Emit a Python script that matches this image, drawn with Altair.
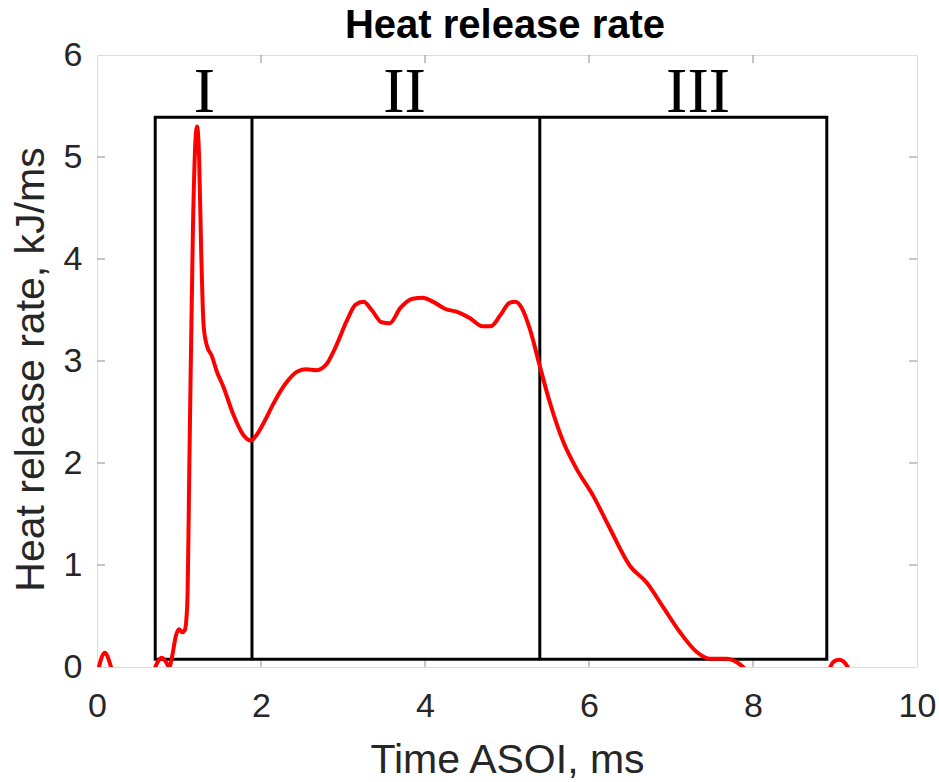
import altair as alt
import pandas as pd

# Heat release rate curve (time ASOI in ms, HRR in kJ/ms); values below 0 are clipped by the axes
time_ms = [0.00, 0.03, 0.06, 0.10, 0.14, 0.17, 0.22, 0.40, 0.60, 0.70, 0.74, 0.79, 0.84, 0.88,
           0.92, 0.96, 1.00, 1.04, 1.07, 1.10, 1.13, 1.17, 1.20, 1.22, 1.245, 1.27, 1.30, 1.34,
           1.40, 1.46, 1.54, 1.66, 1.78, 1.88, 1.95, 2.05, 2.15, 2.30, 2.45, 2.55, 2.68, 2.80,
           2.90, 3.05, 3.15, 3.25, 3.35, 3.47, 3.57, 3.70, 3.85, 3.97, 4.10, 4.25, 4.40, 4.55,
           4.70, 4.80, 4.92, 5.03, 5.10, 5.18, 5.28, 5.40, 5.52, 5.69, 5.85, 6.05, 6.26, 6.50,
           6.70, 6.91, 7.11, 7.31, 7.48, 7.68, 7.88, 8.00, 8.30, 8.70, 8.93, 8.98, 9.05, 9.12,
           9.17, 9.30, 10.0]
hrr = [-0.10, 0.02, 0.10, 0.14, 0.08, 0.00, -0.15, -0.25, -0.20, -0.02, 0.05, 0.09, 0.05, 0.00,
       0.12, 0.30, 0.37, 0.34, 0.36, 0.60, 2.20, 4.30, 5.15, 5.30, 5.00, 4.10, 3.35, 3.15,
       3.05, 2.90, 2.75, 2.48, 2.28, 2.22, 2.28, 2.42, 2.58, 2.78, 2.90, 2.92, 2.91, 2.97,
       3.12, 3.40, 3.55, 3.58, 3.50, 3.38, 3.37, 3.52, 3.61, 3.62, 3.58, 3.51, 3.48, 3.42,
       3.34, 3.34, 3.45, 3.57, 3.58, 3.52, 3.31, 2.95, 2.60, 2.20, 1.94, 1.68, 1.35, 0.99,
       0.83, 0.58, 0.34, 0.15, 0.08, 0.08, 0.00, -0.10, -0.25, -0.20, -0.02, 0.05, 0.07, 0.04,
       -0.02, -0.15, -0.10]

# Stage box and dividers
box_x = [0.71, 8.90]
box_y = [0.075, 5.39]
divider_x = [1.89, 5.40]

# Stage labels
stage_names = ["I", "II", "III"]
stage_x = [1.31, 3.75, 7.33]
stage_y = [5.44, 5.44, 5.44]

# Tick values
x_ticks = [0, 2, 4, 6, 8, 10]
y_ticks = [0, 1, 2, 3, 4, 5, 6]
x_inner = [2, 4, 6, 8]
y_inner = [1, 2, 3, 4, 5]

title_text = ["Heat release rate"]

curve = pd.DataFrame({"t": time_ms, "q": hrr})
box = pd.DataFrame({"x1": [box_x[0]], "x2": [box_x[1]], "y1": [box_y[0]], "y2": [box_y[1]]})
div = pd.DataFrame({"x": divider_x, "y1": [box_y[0]] * 2, "y2": [box_y[1]] * 2})
stages = pd.DataFrame({"name": stage_names, "x": stage_x, "y": stage_y})
xt = pd.DataFrame({"v": x_inner})
yt = pd.DataFrame({"v": y_inner})
ttl = pd.DataFrame({"text": title_text})

W, H = 820, 612
xs = alt.Scale(domain=[0, 10], nice=False, zero=False)
ys = alt.Scale(domain=[0, 6], nice=False, zero=False)

xaxis = alt.Axis(values=x_ticks, format="d", ticks=False, domain=False, grid=False,
                 labelFontSize=34, labelFont="Liberation Sans", labelColor="#262626",
                 labelPadding=22, title="Time ASOI, ms", titleFontSize=41,
                 titleFont="Liberation Sans", titleFontWeight="normal", titleColor="#262626",
                 titleBaseline="alphabetic", titleY=105, labelFlush=False)
yaxis = alt.Axis(values=y_ticks, format="d", ticks=False, domain=False, grid=False,
                 labelFontSize=34, labelFont="Liberation Sans", labelColor="#262626",
                 labelPadding=15, title="Heat release rate, kJ/ms", titleFontSize=41,
                 titleFont="Liberation Sans", titleFontWeight="normal", titleColor="#262626",
                 titleAngle=-90, titleBaseline="alphabetic", titleAlign="center",
                 titleX=-54, titleY=314, labelFlush=False)

line = alt.Chart(curve).mark_line(color="#ff0000", strokeWidth=4, clip=True,
                                  interpolate="monotone").encode(
    x=alt.X("t:Q", scale=xs, axis=xaxis),
    y=alt.Y("q:Q", scale=ys, axis=yaxis),
)

rect = alt.Chart(box).mark_rect(filled=False, stroke="black", strokeWidth=3).encode(
    x=alt.X("x1:Q", scale=xs), x2="x2:Q",
    y=alt.Y("y1:Q", scale=ys), y2="y2:Q",
)

dividers = alt.Chart(div).mark_rule(color="black", strokeWidth=3).encode(
    x=alt.X("x:Q", scale=xs),
    y=alt.Y("y1:Q", scale=ys), y2="y2:Q",
)

labels = alt.Chart(stages).mark_text(font="Liberation Serif", fontSize=64, color="black",
                                     baseline="alphabetic", align="center").encode(
    x=alt.X("x:Q", scale=xs), y=alt.Y("y:Q", scale=ys), text="name:N",
)

title = alt.Chart(ttl).mark_text(font="Liberation Sans", fontSize=40, fontWeight="bold",
                                 color="black", baseline="alphabetic", align="center").encode(
    x=alt.value(W / 2 - 2), y=alt.value(-17), text="text:N",
)

tick_color = "#a0a0a0"
xt_bottom = alt.Chart(xt).mark_rule(color=tick_color, strokeWidth=1.2).encode(
    x=alt.X("v:Q", scale=xs), y=alt.value(H), y2=alt.value(H - 8))
xt_top = alt.Chart(xt).mark_rule(color=tick_color, strokeWidth=1.2).encode(
    x=alt.X("v:Q", scale=xs), y=alt.value(0), y2=alt.value(8))
yt_left = alt.Chart(yt).mark_rule(color=tick_color, strokeWidth=1.2).encode(
    y=alt.Y("v:Q", scale=ys), x=alt.value(0), x2=alt.value(8))
yt_right = alt.Chart(yt).mark_rule(color=tick_color, strokeWidth=1.2).encode(
    y=alt.Y("v:Q", scale=ys), x=alt.value(W), x2=alt.value(W - 8))

chart = alt.layer(xt_bottom, xt_top, yt_left, yt_right, rect, dividers, line, labels, title).properties(
    width=W, height=H,
    autosize=alt.AutoSizeParams(type="none"),
    padding={"left": 97, "top": 55, "right": 22, "bottom": 115},
).configure_view(stroke="#a0a0a0", strokeWidth=1.5).configure(background="white")

chart.save("out.html", embed_options={"renderer": "svg", "actions": False})
